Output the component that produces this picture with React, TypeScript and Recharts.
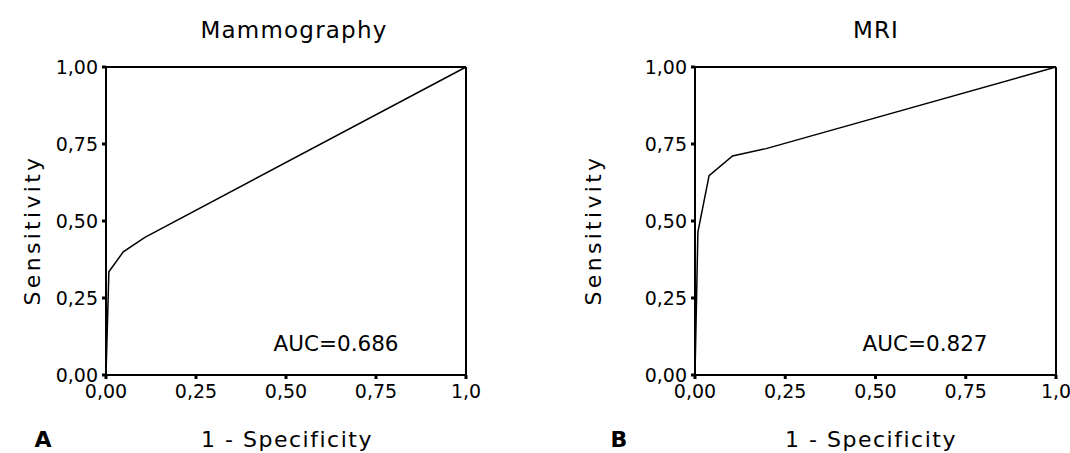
import React from 'react';
import { LineChart, Line, XAxis, YAxis, ReferenceLine } from 'recharts';

const xTicks = [0, 0.25, 0.5, 0.75, 1];
const yTicks = [0, 0.25, 0.5, 0.75, 1];

const mammoFpr = [0, 0.008, 0.048, 0.108, 1];
const mammoTpr = [0, 0.335, 0.4, 0.447, 1];

const mriFpr = [0, 0.008, 0.039, 0.104, 0.197, 1];
const mriTpr = [0, 0.464, 0.647, 0.711, 0.735, 1];

const FONT = '"DejaVu Sans", sans-serif';

const fmtX = (v: number) => (v === 1 ? '1,0' : v.toFixed(2).replace('.', ','));
const fmtY = (v: number) => v.toFixed(2).replace('.', ',');

function Txt({ x, y, size, children, rotate, bold, spacing }: any) {
  return (
    <div
      style={{
        position: 'absolute',
        left: x,
        top: y,
        transform: `translate(-50%, -50%)${rotate ? ` rotate(${rotate}deg)` : ''}`,
        fontSize: size,
        fontWeight: bold ? 'bold' : 'normal',
        letterSpacing: spacing || 0,
        whiteSpace: 'nowrap',
        color: '#000',
        lineHeight: 1,
      }}
    >
      {children}
    </div>
  );
}

interface RocProps {
  fpr: number[];
  tpr: number[];
  left: number;
  yAxisWidth: number;
  right: number;
}

function RocPlot({ fpr, tpr, left, yAxisWidth, right }: RocProps) {
  const data = fpr.map((f, i) => ({ fpr: f, tpr: tpr[i] }));
  return (
    <div style={{ position: 'absolute', left, top: 0 }}>
      <LineChart width={535} height={453} data={data} margin={{ top: 67, right, bottom: 48, left: 0 }}>
        <XAxis
          type="number"
          dataKey="fpr"
          domain={[0, 1]}
          ticks={xTicks}
          tickFormatter={fmtX}
          height={30}
          axisLine={{ stroke: '#000', strokeWidth: 2 }}
          tickLine={{ stroke: '#000', strokeWidth: 3 }}
          tickSize={4}
          tickMargin={6}
          tick={{ fill: '#000', fontSize: 19, fontFamily: FONT }}
        />
        <YAxis
          type="number"
          dataKey="tpr"
          domain={[0, 1]}
          ticks={yTicks}
          tickFormatter={fmtY}
          width={yAxisWidth}
          axisLine={{ stroke: '#000', strokeWidth: 2 }}
          tickLine={{ stroke: '#000', strokeWidth: 3 }}
          tickSize={4}
          tickMargin={4}
          tick={{ fill: '#000', fontSize: 19, fontFamily: FONT }}
        />
        <ReferenceLine y={1} stroke="#000" strokeWidth={2} />
        <ReferenceLine x={1} stroke="#000" strokeWidth={2} />
        <Line
          type="linear"
          dataKey="tpr"
          stroke="#000"
          strokeWidth={1.5}
          dot={false}
          isAnimationActive={false}
        />
      </LineChart>
    </div>
  );
}

export default function App() {
  return (
    <div
      style={{
        position: 'absolute',
        left: 0,
        top: 0,
        width: 1070,
        height: 453,
        background: '#fff',
        fontFamily: FONT,
        overflow: 'hidden',
      }}
    >
      <RocPlot fpr={mammoFpr} tpr={mammoTpr} left={0} yAxisWidth={106} right={69} />
      <RocPlot fpr={mriFpr} tpr={mriTpr} left={535} yAxisWidth={160} right={14} />

      <Txt x={294} y={30} size={23} spacing={1.2}>Mammography</Txt>
      <Txt x={876} y={30} size={23} spacing={1.2}>MRI</Txt>

      <Txt x={33} y={230} size={22} rotate={-90} spacing={3.3}>Sensitivity</Txt>
      <Txt x={594} y={230} size={22} rotate={-90} spacing={3.3}>Sensitivity</Txt>

      <Txt x={287} y={440} size={22} spacing={1.5}>1 - Specificity</Txt>
      <Txt x={871} y={440} size={22} spacing={1.5}>1 - Specificity</Txt>

      <Txt x={43} y={440} size={22} bold>A</Txt>
      <Txt x={619} y={440} size={22} bold>B</Txt>

      <Txt x={336} y={344} size={21.5}>AUC=0.686</Txt>
      <Txt x={925} y={344} size={21.5}>AUC=0.827</Txt>
    </div>
  );
}
